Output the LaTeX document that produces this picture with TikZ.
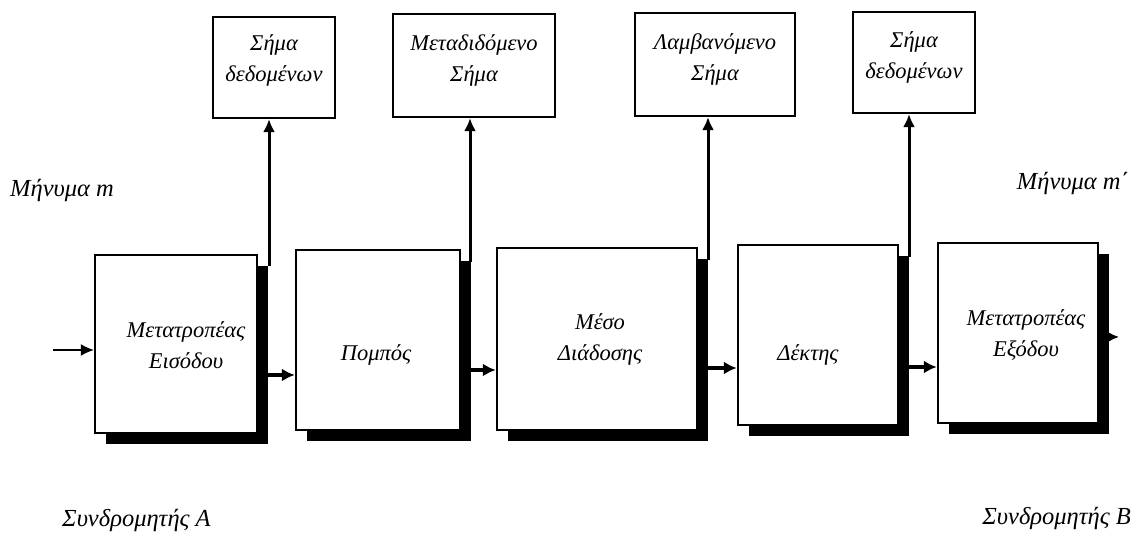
\documentclass[tikz,border=0pt]{standalone}
\usepackage{fontspec}
\setmainfont{Liberation Serif}
\usetikzlibrary{arrows.meta,shadows,calc}
\begin{document}
\begin{tikzpicture}[x=1pt,y=1pt,
  txt/.style={font=\fontsize{22.5}{31}\selectfont\itshape, align=center, inner sep=0pt},
  lbl/.style={font=\fontsize{24.5}{31}\selectfont\itshape, inner sep=0pt},
  mainbox/.style={draw=black, line width=2.4pt, fill=white,
    drop shadow={shadow xshift=11pt, shadow yshift=-11pt, fill=black, opacity=1}},
  sigbox/.style={draw=black, line width=2.2pt, fill=white},
  arr/.style={line width=3.4pt, -{Latex[length=13pt,width=13pt]}},
  varr/.style={line width=3pt, -{Latex[length=13pt,width=12pt]}},
  thinarr/.style={line width=1.4pt, -{Latex[length=13pt,width=12pt]}}
]
\useasboundingbox (0,0) rectangle (1140,534);
% main boxes
\node[mainbox, minimum width=162pt, minimum height=178pt] (b1) at (176,190) {};
\node[mainbox, minimum width=164pt, minimum height=180pt] (b2) at (378,194) {};
\node[mainbox, minimum width=200pt, minimum height=182pt] (b3) at (597,195) {};
\node[mainbox, minimum width=160pt, minimum height=180pt] (b4) at (818,199) {};
\node[mainbox, minimum width=160pt, minimum height=180pt] (b5) at (1018,201) {};
% box texts
\node[txt] (t1) at (186,189) {Μετατροπέας\\Εισόδου};
\node[txt] (t2) at (376,179) {Πομπός};
\node[txt] (t3) at (600,195) {Μέσο\\Διάδοσης};
\node[txt] (t4) at (808,179) {Δέκτης};
\node[txt] (t5) at (1026,199) {Μετατροπέας\\Εξόδου};
% signal boxes
\node[sigbox, minimum width=122pt, minimum height=101pt] (s1) at (274,466.5) {};
\node[sigbox, minimum width=162pt, minimum height=103pt] (s2) at (474,468.5) {};
\node[sigbox, minimum width=160pt, minimum height=103pt] (s3) at (715,469.5) {};
\node[sigbox, minimum width=122pt, minimum height=101pt] (s4) at (914,471.5) {};
\node[txt] (u1) at (274,474) {Σήμα\\δεδομένων};
\node[txt] (u2) at (474,474) {Μεταδιδόμενο\\Σήμα};
\node[txt] (u3) at (715,475) {Λαμβανόμενο\\Σήμα};
\node[txt] (u4) at (914,477) {Σήμα\\δεδομένων};
% vertical connectors
\coordinate (v1) at (269,268);
\coordinate (v2) at (470,272);
\coordinate (v3) at (708,274);
\coordinate (v4) at (909,277);
\draw[varr] (v1) -- (v1 |- s1.south);
\draw[varr] (v2) -- (v2 |- s2.south);
\draw[varr] (v3) -- (v3 |- s3.south);
\draw[varr] (v4) -- (v4 |- s4.south);
% horizontal connectors
\coordinate (h1) at (268,159);
\coordinate (h2) at (471,164);
\coordinate (h3) at (708,166);
\coordinate (h4) at (909,167);
\draw[arr] (h1) -- (h1 -| b2.west);
\draw[arr] (h2) -- (h2 -| b3.west);
\draw[arr] (h3) -- (h3 -| b4.west);
\draw[arr] (h4) -- (h4 -| b5.west);
% input and output
\coordinate (in) at (53,184);
\draw[thinarr] (in) -- (in -| b1.west);
\coordinate (o1) at (1104,197);
\coordinate (o2) at (1119,197);
\draw[arr] (o1) -- (o2);
% labels
\node[lbl, anchor=west] (m1) at (10,344) {Μήνυμα m};
\node[lbl, anchor=east] (m2) at (1129,351) {Μήνυμα m΄};
\node[lbl, anchor=west] (a1) at (62,14) {Συνδρομητής Α};
\node[lbl, anchor=east] (a2) at (1131,16) {Συνδρομητής Β};
\end{tikzpicture}
\end{document}
